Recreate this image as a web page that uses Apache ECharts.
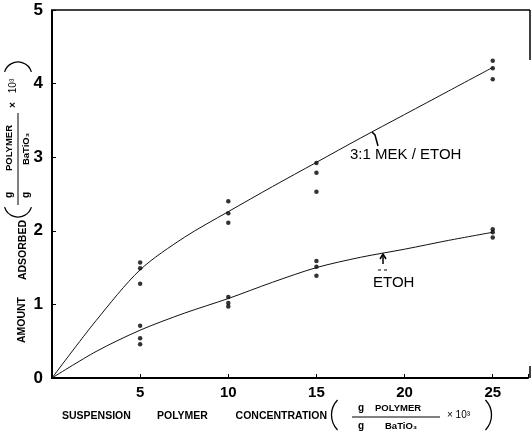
<!DOCTYPE html>
<html>
<head>
<meta charset="utf-8">
<script src="https://cdn.jsdelivr.net/npm/echarts@6/dist/echarts.min.js"></script>
<style>html,body{margin:0;background:#fff}#chart{width:531px;height:434px}</style>
</head>
<body>
<div id="chart"></div>
<script>
// measured points (x = concentration, y = amount adsorbed)
var mekX = [5, 5, 5, 10, 10, 10, 15, 15, 15, 25, 25, 25];
var mekY = [1.57, 1.49, 1.28, 2.40, 2.24, 2.11, 2.92, 2.79, 2.53, 4.31, 4.21, 4.06];
var etohX = [5, 5, 5, 10, 10, 10, 15, 15, 15, 25, 25, 25];
var etohY = [0.71, 0.54, 0.46, 1.10, 1.02, 0.97, 1.59, 1.51, 1.39, 2.02, 1.98, 1.91];

// hand drawn curves
var fitX = [0, 2.5, 5, 7.5, 10, 12.5, 15, 17.5, 20, 22.5, 25];
var mekFit = [0, 0.78, 1.47, 1.91, 2.26, 2.60, 2.93, 3.26, 3.58, 3.90, 4.22];
var etohFit = [0, 0.36, 0.65, 0.88, 1.08, 1.30, 1.50, 1.64, 1.75, 1.87, 1.98];

var xTicks = [5, 10, 15, 20, 25];

function pairs(xs, ys) {
    var out = [];
    for (var i = 0; i < xs.length; i++) {
        out.push([xs[i], ys[i]]);
    }
    return out;
}

var FONT = '"Liberation Sans", Arial, sans-serif';

// text turned to read bottom to top
function vText(text, x, y, size, weight) {
    return {
        type: 'text', x: x, y: y, rotation: Math.PI / 2,
        style: {
            text: text, fill: '#000', font: (weight || 'bold') + ' ' + size + 'px ' + FONT,
            textAlign: 'center', textVerticalAlign: 'middle'
        }
    };
}

function hText(text, x, y, size, weight, align) {
    return {
        type: 'text', x: x, y: y,
        style: {
            text: text, fill: '#000', font: (weight || 'bold') + ' ' + size + 'px ' + FONT,
            textAlign: align || 'left', textVerticalAlign: 'middle'
        }
    };
}

function seg(x1, y1, x2, y2, w) {
    return {
        type: 'line',
        shape: {x1: x1, y1: y1, x2: x2, y2: y2},
        style: {stroke: '#000', lineWidth: w || 1}
    };
}

// bracket drawn as a thin arc, angles in degrees
function paren(cx, cy, r, a0, a1) {
    return {
        type: 'arc',
        shape: {cx: cx, cy: cy, r: r, startAngle: a0 * Math.PI / 180, endAngle: a1 * Math.PI / 180, clockwise: true},
        style: {stroke: '#000', lineWidth: 1.3, fill: null}
    };
}

var graphics = [
    // frame remains at the top and right
    seg(53, 10, 530, 10, 1.5),
    seg(530, 10, 530, 60, 1.5),
    seg(530, 366, 530, 378, 1.5),

    // y axis title
    vText('AMOUNT', 22, 320, 10.5),
    vText('ADSORBED', 23, 250, 10.5),
    paren(18, 203, 14, 17, 163),
    vText('g', 9, 195, 10),
    vText('POLYMER', 9, 148, 9.5),
    seg(18, 113, 18, 205, 1),
    vText('g', 26, 195, 10),
    vText('BaTiO\u2083', 26, 149, 9.5),
    vText('\u00d7', 13, 105, 10),
    vText('10\u00b3', 13, 86, 10, 'normal'),
    paren(18, 76, 14, 197, 343),

    // x axis title
    hText('SUSPENSION', 62, 416, 10.5),
    hText('POLYMER', 157, 416, 10.5),
    hText('CONCENTRATION', 327, 416, 10.5, 'bold', 'right'),
    paren(353, 415, 21.5, 136, 224),
    hText('g', 358, 408, 10),
    hText('POLYMER', 375, 408, 9.5),
    seg(352, 417, 440, 417, 1),
    hText('g', 358, 426, 10),
    hText('BaTiO\u2083', 385, 426, 9.5),
    hText('\u00d7 10\u00b3', 447, 415, 10, 'normal'),
    paren(470, 415, 21.5, -44, 44),

    // curve labels
    hText('3:1 MEK / ETOH', 350, 155, 15, 'normal'),
    {
        type: 'polyline',
        shape: {points: [[372, 132], [375, 135], [378, 146]]},
        style: {stroke: '#000', lineWidth: 1.5, fill: null}
    },
    hText('ETOH', 373, 283, 15, 'normal'),
    seg(383, 264, 383, 255, 1.5),
    {
        type: 'polyline',
        shape: {points: [[380, 259], [383, 254], [386, 259]]},
        style: {stroke: '#000', lineWidth: 1.5, fill: null}
    },
    seg(378, 270, 381, 270, 1),
    seg(384, 270, 387, 270, 1)
];

var chart = echarts.init(document.getElementById('chart'));

chart.setOption({
    animation: false,
    backgroundColor: '#fff',
    grid: {left: 52, right: 1, top: 10, bottom: 56},
    xAxis: {
        type: 'value', min: 0, max: 27, interval: 5,
        axisLine: {lineStyle: {color: '#000', width: 2}},
        axisTick: {inside: true, length: 4, lineStyle: {color: '#000'}},
        splitLine: {show: false},
        axisLabel: {
            color: '#000', fontFamily: FONT, fontWeight: 'bold', fontSize: 15, margin: 7,
            formatter: function (v) { return xTicks.indexOf(v) >= 0 ? String(v) : ''; }
        }
    },
    yAxis: {
        type: 'value', min: 0, max: 5, interval: 1,
        axisLine: {show: true, lineStyle: {color: '#000', width: 2}},
        axisTick: {show: true, inside: true, length: 4, lineStyle: {color: '#000'}},
        splitLine: {show: false},
        axisLabel: {color: '#000', fontFamily: FONT, fontWeight: 'bold', fontSize: 17, margin: 9}
    },
    graphic: graphics,
    series: [
        {
            name: '3:1 MEK / ETOH', type: 'line', data: pairs(fitX, mekFit),
            smooth: 0.3, showSymbol: false, silent: true,
            lineStyle: {color: '#111', width: 1}
        },
        {
            name: 'ETOH', type: 'line', data: pairs(fitX, etohFit),
            smooth: 0.3, showSymbol: false, silent: true,
            lineStyle: {color: '#111', width: 1}
        },
        {
            type: 'scatter', data: pairs(mekX, mekY),
            symbol: 'circle', symbolSize: 4.5, itemStyle: {color: '#000'}
        },
        {
            type: 'scatter', data: pairs(etohX, etohY),
            symbol: 'circle', symbolSize: 4.5, itemStyle: {color: '#000'}
        }
    ]
});
</script>
</body>
</html>
